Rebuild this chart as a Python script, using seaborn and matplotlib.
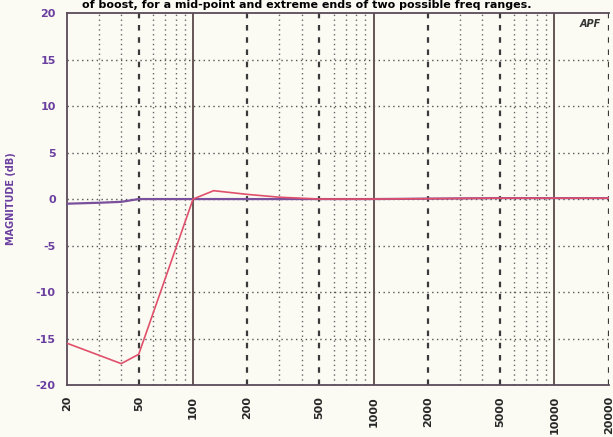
import pandas as pd
import numpy as np
import matplotlib.pyplot as plt
import seaborn as sns
sns.set_style('white')

# frequency response readings (Hz, dB)
flat_freq = [20, 30, 40, 50, 100, 1000, 5000, 20000]
flat_db = [-0.5, -0.4, -0.3, 0.0, 0.0, 0.0, 0.1, 0.1]

cut_freq = [20, 40, 50, 100, 130, 200, 300, 500, 1000, 5000, 20000]
cut_db = [-15.5, -17.7, -16.7, 0.0, 0.9, 0.5, 0.2, 0.0, 0.0, 0.1, 0.1]

x_ticks = [20, 50, 100, 200, 500, 1000, 2000, 5000, 10000, 20000]
y_ticks = [20, 15, 10, 5, 0, -5, -10, -15, -20]

decades = [100, 1000, 10000]
labelled = [50, 200, 500, 2000, 5000, 20000]
minors = [30, 40, 60, 70, 80, 90, 300, 400, 600, 700, 800, 900,
          3000, 4000, 6000, 7000, 8000, 9000]

df = pd.concat([
    pd.DataFrame({'freq': flat_freq, 'db': flat_db, 'curve': 'flat'}),
    pd.DataFrame({'freq': cut_freq, 'db': cut_db, 'curve': 'cut'}),
])

purple = '#6b3fa0'
fig = plt.figure(figsize=(6.13, 4.37), dpi=100, facecolor='#fbfbf4')
ax = fig.add_axes([0.109, 0.119, 0.884, 0.851])
ax.set_facecolor('#fbfbf4')

for f in minors:
    ax.axvline(f, color='#666666', lw=1.0, ls=(0, (1, 2.5)), zorder=1)
for f in labelled:
    ax.axvline(f, color='#3a3a3a', lw=1.6, ls=(0, (2.5, 3)), zorder=1)
for f in decades:
    ax.axvline(f, color='#5a4848', lw=1.3, zorder=1)
for v in [-15, -10, -5, 0, 5, 10, 15]:
    ax.axhline(v, color='#555555', lw=1.0, ls=(0, (1, 2.5)), zorder=1)

sns.lineplot(data=df, x='freq', y='db', hue='curve', palette={'flat': '#7a4f9c', 'cut': '#e0506a'},
             sort=False, legend=False, ax=ax, zorder=3)
ax.lines[-2].set_linewidth(1.6)
ax.lines[-1].set_linewidth(1.2)

ax.set_xscale('log')
ax.set_xlim(20, 20000)
ax.set_ylim(-20, 20)
ax.set_xticks(x_ticks)
ax.set_xticklabels([str(t) for t in x_ticks], rotation=90, fontsize=8, fontweight='bold')
ax.minorticks_off()
ax.set_yticks(y_ticks)
ax.set_yticklabels([str(t) for t in y_ticks], fontsize=8, fontweight='bold', color=purple)
ax.tick_params(axis='both', direction='in', length=3, pad=8)
ax.set_xlabel('')
ax.set_ylabel('MAGNITUDE (dB)', fontsize=7, fontweight='bold', color=purple, labelpad=14)

for side in ['left', 'bottom', 'top']:
    ax.spines[side].set_color('#5a4a5a')
    ax.spines[side].set_linewidth(1.3)
ax.spines['right'].set_visible(False)

fig.text(0.5, 0.999, 'of boost, for a mid-point and extreme ends of two possible freq ranges.',
         ha='center', va='top', fontsize=8, fontweight='bold', color='black')
ax.text(0.985, 0.985, 'APF', transform=ax.transAxes, ha='right', va='top',
        fontsize=7, fontweight='bold', fontstyle='italic', color='#333333')

fig.savefig('out.png', dpi=100, facecolor=fig.get_facecolor())
